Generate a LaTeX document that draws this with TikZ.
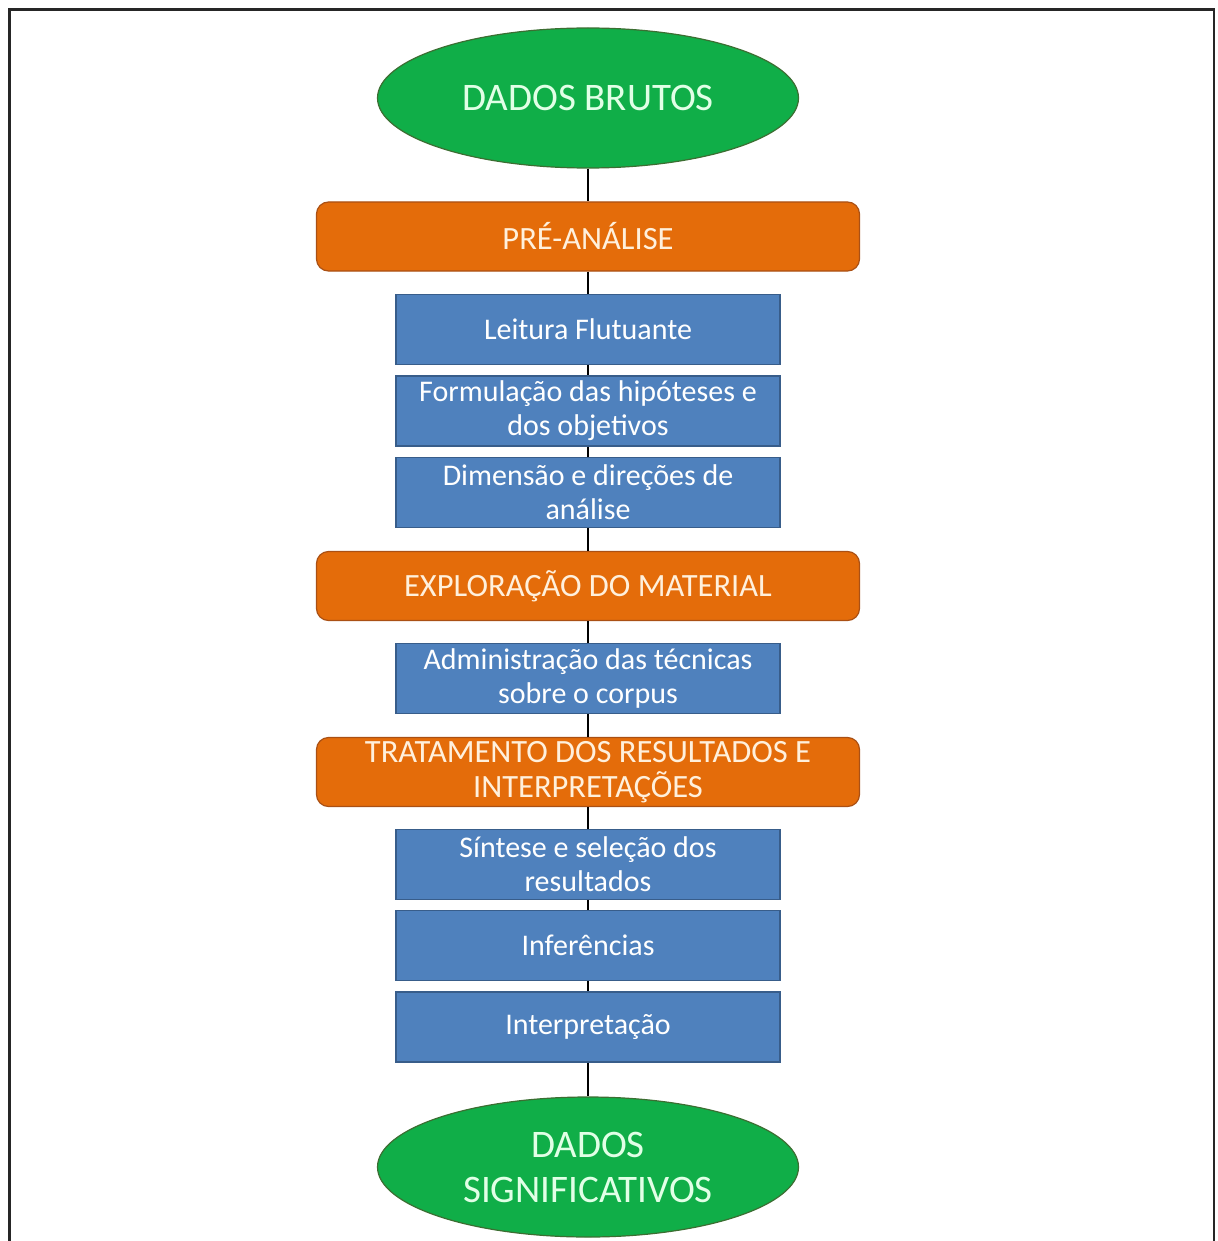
\documentclass[tikz,border=0pt]{standalone}
\usepackage{fontspec}
\setmainfont{Carlito}
\usetikzlibrary{shapes.geometric}
\definecolor{egreen}{RGB}{16,174,72}
\definecolor{egreenline}{RGB}{60,110,50}
\definecolor{borange}{RGB}{228,108,10}
\definecolor{borangeline}{RGB}{170,80,20}
\definecolor{bblue}{RGB}{79,129,189}
\definecolor{bblueline}{RGB}{56,93,138}
\definecolor{otext}{RGB}{255,240,220}
\definecolor{gtext}{RGB}{225,255,230}
\tikzset{
  x=1pt, y=-1pt,
  ovalnode/.style={ellipse, draw=egreenline, line width=1.2pt, fill=egreen, text=gtext,
    minimum width=421pt, minimum height=140pt, inner sep=0pt, align=center,
    font=\fontsize{39}{45}\selectfont},
  phasebox/.style={rectangle, rounded corners=12pt, draw=borangeline, line width=1.2pt, fill=borange,
    text=otext, minimum width=543pt, minimum height=69pt, inner sep=0pt, align=center,
    font=\fontsize{32.5}{35}\selectfont},
  stepbox/.style={rectangle, draw=bblueline, line width=1.2pt, fill=bblue, text=white,
    minimum width=384pt, minimum height=70pt, inner sep=0pt, align=center,
    font=\fontsize{30}{34}\selectfont},
  conn/.style={draw=black, line width=1.3pt}
}
\begin{document}
\begin{tikzpicture}
\useasboundingbox (0,0) rectangle (1217,1241);
\draw[line width=2.5pt, draw=black!85] (9.5,1245) -- (9.5,9.5) -- (1214,9.5) -- (1214,1245);

\node[ovalnode] (brutos) at (588,98) {DADOS BRUTOS};
\node[phasebox] (pre) at (588,236.5) {PRÉ-ANÁLISE};
\node[stepbox] (leit) at (588,329.5) {Leitura Flutuante};
\node[stepbox] (form) at (588,411) {Formulação das hipóteses e\\dos objetivos};
\node[stepbox] (dim) at (588,492.5) {Dimensão e direções de\\análise};
\node[phasebox] (expl) at (588,586) {EXPLORAÇÃO DO MATERIAL};
\node[stepbox] (adm) at (588,678.5) {Administração das técnicas\\sobre o corpus};
\node[phasebox] (trat) at (588,772) {TRATAMENTO DOS RESULTADOS E\\INTERPRETAÇÕES};
\node[stepbox] (sint) at (588,864.5) {Síntese e seleção dos\\resultados};
\node[stepbox] (infe) at (588,945.5) {Inferências};
\node[stepbox] (interp) at (588,1027) {Interpretação};
\node[ovalnode] (sig) at (588,1167) {DADOS\\SIGNIFICATIVOS};

\draw[conn] (brutos) -- (pre);
\draw[conn] (pre) -- (leit);
\draw[conn] (leit) -- (form);
\draw[conn] (form) -- (dim);
\draw[conn] (dim) -- (expl);
\draw[conn] (expl) -- (adm);
\draw[conn] (adm) -- (trat);
\draw[conn] (trat) -- (sint);
\draw[conn] (sint) -- (infe);
\draw[conn] (infe) -- (interp);
\draw[conn] (interp) -- (sig);
\end{tikzpicture}
\end{document}
